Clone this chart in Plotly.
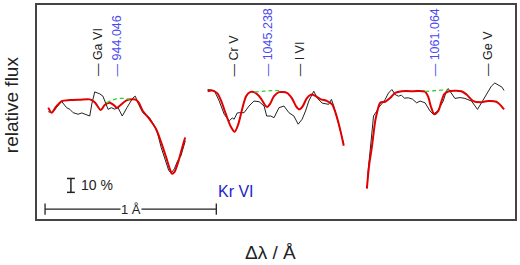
import plotly.graph_objects as go

# ---- data (Δλ in Å, relative flux) ----
obs1_x = [0.066,0.091,0.116,0.144,0.173,0.192,0.211,0.240,0.262,0.279,0.308,0.320,0.337,0.355,0.366,0.385,0.415,0.434,0.453,0.473,0.498,0.525,0.560,0.574,0.593,0.618,0.657,0.686,0.705,0.725,0.750,0.769,0.783,0.802,0.822,0.841,0.866]
obs1_y = [0.852,0.845,0.886,0.926,0.881,0.869,0.845,0.834,0.843,0.834,0.821,0.907,0.995,0.986,0.981,0.964,0.869,0.881,0.871,0.881,0.821,0.881,0.952,0.964,0.905,0.845,0.809,0.750,0.691,0.595,0.500,0.429,0.409,0.441,0.500,0.536,0.643]
mod1_x = [0.066,0.085,0.110,0.144,0.192,0.250,0.308,0.337,0.372,0.395,0.424,0.448,0.467,0.488,0.522,0.560,0.576,0.595,0.618,0.657,0.696,0.725,0.754,0.777,0.789,0.802,0.827,0.851,0.865]
mod1_y = [0.881,0.845,0.886,0.929,0.936,0.939,0.941,0.921,0.864,0.900,0.916,0.900,0.881,0.900,0.934,0.941,0.939,0.916,0.857,0.798,0.726,0.631,0.524,0.434,0.405,0.416,0.500,0.607,0.666]
nokr1_x = [0.407,0.433,0.462,0.497,0.541]
nokr1_y = [0.916,0.932,0.945,0.948,0.941]

obs2_x = [0.996,1.035,1.064,1.093,1.122,1.140,1.151,1.169,1.180,1.209,1.238,1.267,1.297,1.326,1.341,1.365,1.384,1.413,1.442,1.471,1.500,1.525,1.548,1.568,1.587,1.606,1.616,1.635,1.665,1.703,1.719,1.733,1.752,1.772,1.791]
obs2_y = [1.012,1.005,0.929,0.834,0.786,0.807,0.798,0.843,0.845,0.845,0.893,0.929,0.924,0.893,0.821,0.821,0.809,0.881,0.893,0.845,0.821,0.762,0.798,0.857,0.929,0.976,1.000,0.952,0.914,0.905,0.941,0.893,0.809,0.714,0.621]
mod2_x = [0.996,1.023,1.052,1.076,1.103,1.132,1.154,1.174,1.198,1.221,1.244,1.273,1.306,1.331,1.345,1.360,1.384,1.413,1.459,1.488,1.512,1.532,1.552,1.576,1.599,1.622,1.655,1.694,1.723,1.752,1.772,1.791]
mod2_y = [1.000,1.004,0.986,0.929,0.834,0.743,0.707,0.757,0.871,0.964,0.993,0.989,0.950,0.900,0.886,0.907,0.964,0.993,0.988,0.950,0.893,0.869,0.893,0.950,0.975,0.968,0.943,0.929,0.905,0.809,0.714,0.607]
nokr2_x = [1.270,1.326,1.366,1.413]
nokr2_y = [0.993,1.000,1.004,1.004]

obs3_x = [1.930,1.948,1.965,1.984,1.994,2.012,2.033,2.052,2.072,2.091,2.110,2.128,2.145,2.169,2.192,2.217,2.237,2.266,2.295,2.314,2.339,2.372,2.390,2.401,2.420,2.440,2.471,2.498,2.537,2.572,2.595,2.624,2.653,2.673,2.702,2.715,2.727]
obs3_y = [0.381,0.607,0.821,0.857,0.881,0.907,0.941,0.986,1.012,0.976,0.964,0.971,0.950,0.952,0.943,0.916,0.929,0.916,0.857,0.834,0.857,0.929,1.000,1.019,0.988,0.948,0.954,0.948,0.929,0.869,0.916,0.976,1.036,1.059,1.036,1.029,1.005]
mod3_x = [1.926,1.939,1.955,1.975,1.985,2.004,2.033,2.062,2.091,2.130,2.198,2.266,2.285,2.299,2.320,2.343,2.360,2.378,2.401,2.478,2.508,2.547,2.595,2.634,2.682,2.702,2.727]
mod3_y = [0.298,0.464,0.595,0.786,0.843,0.916,0.924,0.950,0.988,1.000,1.000,0.996,0.957,0.893,0.834,0.857,0.921,0.979,0.998,1.000,0.976,0.929,0.921,0.929,0.924,0.905,0.869]
nokr3_x = [2.266,2.314,2.355,2.401]
nokr3_y = [0.998,1.003,1.007,1.008]

line_labels = ["Ga VI", "944.046", "Cr V", "1045.238", "I VI", "1061.064", "Ge V"]
line_pos = [0.355, 0.465, 1.151, 1.349, 1.533, 2.324, 2.634]
line_is_kr = [False, True, False, True, False, True, False]
label_base = 1.093

X_RANGE = [0.0, 2.791]
Y_RANGE = [0.079, 1.621]

BLACK = "#222222"
RED = "#e00000"
GREEN = "#33cc33"
BLUE_LBL = "#4b4bef"
BLUE_KR = "#2222cc"
FONT = "Arial, Liberation Sans, sans-serif"

fig = go.Figure()
segments = [
    (obs1_x, obs1_y, mod1_x, mod1_y, nokr1_x, nokr1_y),
    (obs2_x, obs2_y, mod2_x, mod2_y, nokr2_x, nokr2_y),
    (obs3_x, obs3_y, mod3_x, mod3_y, nokr3_x, nokr3_y),
]
for ox, oy, mx, my, gx, gy in segments:
    fig.add_trace(go.Scatter(x=ox, y=oy, mode="lines",
                             line=dict(color=BLACK, width=1), hoverinfo="skip"))
    fig.add_trace(go.Scatter(x=mx, y=my, mode="lines", line_shape="spline",
                             line=dict(color=RED, width=2, smoothing=0.8), hoverinfo="skip"))
    fig.add_trace(go.Scatter(x=gx, y=gy, mode="lines", line_shape="spline",
                             line=dict(color=GREEN, width=1.3, dash="4px,3px"), hoverinfo="skip"))

annotations = []
for lab, pos, kr in zip(line_labels, line_pos, line_is_kr):
    annotations.append(dict(x=pos, y=label_base, xref="x", yref="y",
                            text="— " + lab, textangle=-90, showarrow=False,
                            xanchor="center", yanchor="bottom",
                            font=dict(family=FONT, size=12.5,
                                      color=BLUE_LBL if kr else BLACK)))

# 10 % scale bar
bar_x = 0.198
bar_y0, bar_y1 = 0.271, 0.371
shapes = [
    dict(type="line", xref="x", yref="y", x0=bar_x, x1=bar_x, y0=bar_y0, y1=bar_y1,
         line=dict(color=BLACK, width=1.5)),
    dict(type="line", xref="x", yref="y", x0=bar_x - 0.023, x1=bar_x + 0.023, y0=bar_y0, y1=bar_y0,
         line=dict(color=BLACK, width=1.5)),
    dict(type="line", xref="x", yref="y", x0=bar_x - 0.023, x1=bar_x + 0.023, y0=bar_y1, y1=bar_y1,
         line=dict(color=BLACK, width=1.5)),
]
annotations.append(dict(x=bar_x + 0.045, y=0.321, xref="x", yref="y", text="10 %",
                        showarrow=False, xanchor="left", yanchor="middle",
                        font=dict(family=FONT, size=14, color=BLACK)))

# 1 Å scale bar
sb_x0, sb_x1, sb_y = 0.047, 1.047, 0.150
shapes += [
    dict(type="line", xref="x", yref="y", x0=sb_x0, x1=sb_x1, y0=sb_y, y1=sb_y,
         line=dict(color=BLACK, width=1.3)),
    dict(type="line", xref="x", yref="y", x0=sb_x0, x1=sb_x0, y0=sb_y - 0.04, y1=sb_y + 0.04,
         line=dict(color=BLACK, width=1.3)),
    dict(type="line", xref="x", yref="y", x0=sb_x1, x1=sb_x1, y0=sb_y - 0.04, y1=sb_y + 0.04,
         line=dict(color=BLACK, width=1.3)),
]
annotations.append(dict(x=(sb_x0 + sb_x1) / 2, y=sb_y, xref="x", yref="y", text="1 Å",
                        showarrow=False, xanchor="center", yanchor="middle",
                        bgcolor="white", borderpad=0,
                        font=dict(family=FONT, size=13, color=BLACK)))

annotations.append(dict(x=1.163, y=0.279, xref="x", yref="y", text="Kr VI",
                        showarrow=False, xanchor="center", yanchor="middle",
                        font=dict(family=FONT, size=16, color=BLUE_KR)))

# axis titles
annotations.append(dict(x=11, y=104, xref="paper", yref="paper", text="relative flux",
                        showarrow=False, textangle=-90, xanchor="center", yanchor="middle",
                        font=dict(family=FONT, size=19, color=BLACK)))
annotations.append(dict(x=271, y=253, xref="paper", yref="paper", text="Δλ / Å",
                        showarrow=False, xanchor="center", yanchor="middle",
                        font=dict(family=FONT, size=19, color=BLACK)))

# convert paper pixel coords to paper fractions
W, H = 520, 265
L, R, T, B = 37, 3, 3, 46
pw, ph = W - L - R, H - T - B
for a in annotations:
    if a["xref"] == "paper":
        a["x"] = (a["x"] - L) / pw
        a["y"] = 1 - (a["y"] - T) / ph

fig.update_layout(
    width=W, height=H,
    margin=dict(l=L, r=R, t=T, b=B),
    paper_bgcolor="white", plot_bgcolor="white",
    showlegend=False,
    annotations=annotations, shapes=shapes,
    xaxis=dict(range=X_RANGE, showgrid=False, zeroline=False, showticklabels=False,
               ticks="", showline=True, mirror=True, linecolor="#444444", linewidth=1.5),
    yaxis=dict(range=Y_RANGE, showgrid=False, zeroline=False, showticklabels=False,
               ticks="", showline=True, mirror=True, linecolor="#444444", linewidth=1.5),
)
fig.write_html("out.html", config={"displayModeBar": False},
               post_script="document.body.style.margin='0';document.body.style.padding='0';")
